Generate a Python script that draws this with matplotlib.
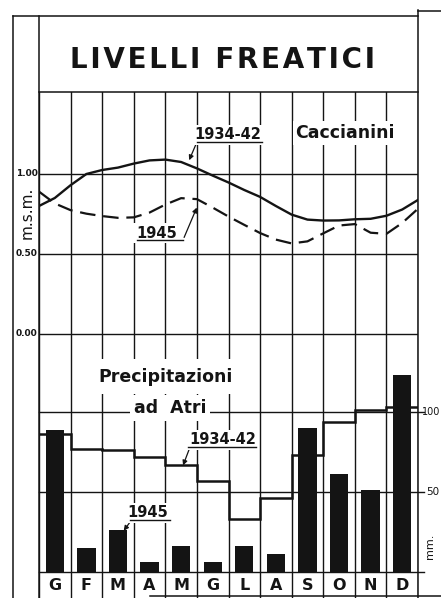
import matplotlib
matplotlib.use('Agg')
import matplotlib.pyplot as plt
from matplotlib.lines import Line2D
import numpy as np

# mesi
months = ['G', 'F', 'M', 'A', 'M', 'G', 'L', 'A', 'S', 'O', 'N', 'D']

# precipitazioni ad Atri (mm)
prec_1934_42 = [86, 77, 76, 72, 67, 57, 33, 46, 73, 94, 101, 103]
prec_1945 = [89, 15, 26, 6, 16, 6, 16, 11, 90, 61, 51, 123]

# livelli freatici Caccianini (m s.m.), letti ogni mezzo mese
liv_mesi = [0, 0.5, 1, 1.5, 2, 2.5, 3, 3.5, 4, 4.5, 5, 5.5, 6,
            6.5, 7, 7.5, 8, 8.5, 9, 9.5, 10, 10.5, 11, 11.5, 12]
liv_1934_42 = [0.80, 0.85, 0.93, 1.00, 1.025, 1.04, 1.065, 1.085, 1.09, 1.075, 1.035, 0.99, 0.947,
               0.90, 0.857, 0.80, 0.746, 0.715, 0.709, 0.71, 0.717, 0.72, 0.739, 0.778, 0.838]
liv_1945 = [0.89, 0.816, 0.774, 0.752, 0.737, 0.726, 0.729, 0.759, 0.809, 0.849, 0.843, 0.79, 0.734,
            0.682, 0.631, 0.59, 0.566, 0.579, 0.629, 0.678, 0.687, 0.633, 0.626, 0.694, 0.783]

title = 'LIVELLI FREATICI'

ink = '#141414'
W, H = 441, 598

fig = plt.figure(figsize=(W / 100, H / 100), dpi=100)
fig.patch.set_facecolor('white')


def box(x0, y0, x1, y1):
    # pixel box -> figure rect
    return [x0 / W, 1 - y1 / H, (x1 - x0) / W, (y1 - y0) / H]


def fline(xs, ys, lw=1.1):
    fig.add_artist(Line2D([x / W for x in xs], [1 - y / H for y in ys],
                          transform=fig.transFigure, color=ink, lw=lw))


# frame and title box
fline([13, 13], [16, 598])
fline([39, 39], [16, 598])
fline([418, 418], [10, 598])
fline([13, 418], [16, 16])
fline([418, 441], [11, 11])
fline([39, 418], [92, 92])
fline([150, 441], [596, 596])
# lettering is spaced out a bit, like stencil text
fig.text(222 / W, 1 - 60 / H, '\u200a'.join(title), ha='center', va='center',
         fontsize=20, fontweight='bold', color=ink)

# main axes: mm on the left scale, levels on a twin
ax = fig.add_axes(box(39, 92, 418, 572))
ax.set_xlim(0, 12)
ax.set_ylim(0, 300)
ax.axis('off')
ax2 = ax.twinx()
ax2.set_ylim(-1.4875, 1.5125)
ax2.axis('off')

for i in range(13):
    ax.axvline(i, color=ink, lw=1.0, zorder=1)
for lv in [1.0, 0.5, 0.0]:
    ax2.axhline(lv, color=ink, lw=1.0, zorder=1)
for mm in [100, 50, 0]:
    ax.plot([0, 12.2], [mm, mm], color=ink, lw=1.0, zorder=1, clip_on=False)

# precipitation
ax.bar(np.arange(12) + 0.5, prec_1945, width=0.58, color=ink, zorder=3)
ax.stairs(prec_1934_42, np.arange(13), baseline=None, color=ink, lw=1.8, zorder=4)

# water levels
ax2.plot(liv_mesi, liv_1934_42, color=ink, lw=1.7, zorder=4)
ax2.plot(liv_mesi, liv_1945, color=ink, lw=1.6, dashes=(7, 3.5), zorder=4)

# left labels
for lv, lab in [(1.0, '1.00'), (0.5, '0.50'), (0.0, '0.00')]:
    ax2.text(-0.04, lv, lab, ha='right', va='center', fontsize=6.5,
             fontweight='bold', color=ink, clip_on=False)
ax2.text(-0.38, 0.756, 'm.s.m.', rotation=90, ha='center', va='center',
         fontsize=11, color=ink, clip_on=False)

# right labels
ax.text(12.12, 100, '100', ha='left', va='center', fontsize=7, color=ink, clip_on=False)
ax.text(12.25, 50, '50', ha='left', va='center', fontsize=7.5, color=ink, clip_on=False)
ax.text(12.38, 16, 'mm.', rotation=90, ha='center', va='center', fontsize=8, color=ink,
        clip_on=False)

wb = dict(fc='white', ec='none', pad=2)
tk = dict(color=ink, fontweight='bold', zorder=6)

# upper annotations
ax2.text(5.97, 1.244, '1934-42', ha='center', va='center', fontsize=10.5, bbox=wb, **tk)
ax2.plot([5.0, 7.06], [1.2, 1.2], color=ink, lw=1.0, zorder=6)
ax2.annotate('', xy=(4.72, 1.07), xytext=(5.0, 1.2),
             arrowprops=dict(arrowstyle='-|>', color=ink, lw=0.9, mutation_scale=7))
ax2.text(9.7, 1.256, 'Caccianini', ha='center', va='center', fontsize=12.5, bbox=wb, **tk)
ax2.text(3.72, 0.631, '1945', ha='center', va='center', fontsize=10.5, bbox=wb, **tk)
ax2.plot([3.1, 4.56], [0.5875, 0.5875], color=ink, lw=1.0, zorder=6)
ax2.annotate('', xy=(5.03, 0.806), xytext=(4.56, 0.5875),
             arrowprops=dict(arrowstyle='-|>', color=ink, lw=0.9, mutation_scale=7))

# lower annotations
ax.text(4.02, 122, 'Precipitazioni', ha='center', va='center', fontsize=12.5,
        bbox=dict(fc='white', ec='none', pad=6), **tk)
ax.text(4.15, 102.5, 'ad  Atri', ha='center', va='center', fontsize=12.5,
        bbox=dict(fc='white', ec='none', pad=3), **tk)
ax.text(5.81, 82.5, '1934-42', ha='center', va='center', fontsize=10.5, bbox=wb, **tk)
ax.plot([4.72, 6.87], [78, 78], color=ink, lw=1.0, zorder=6)
ax.annotate('', xy=(4.53, 65), xytext=(4.78, 78),
            arrowprops=dict(arrowstyle='-|>', color=ink, lw=0.9, mutation_scale=7))
ax.text(3.44, 36.9, '1945', ha='center', va='center', fontsize=10.5, bbox=wb, **tk)
ax.plot([2.88, 4.15], [32.5, 32.5], color=ink, lw=1.0, zorder=6)
ax.annotate('', xy=(2.63, 24.4), xytext=(2.93, 32.5),
            arrowprops=dict(arrowstyle='-|>', color=ink, lw=0.9, mutation_scale=7))

# month row
axm = fig.add_axes(box(39, 572, 418, 598))
axm.set_xlim(0, 12)
axm.set_ylim(0, 1)
axm.axis('off')
for i in range(13):
    axm.axvline(i, color=ink, lw=1.0)
for i, m in enumerate(months):
    axm.text(i + 0.5, 0.5, m, ha='center', va='center', fontsize=11.5,
             fontweight='bold', color=ink)

fig.savefig('out.png', dpi=100, facecolor='white')
